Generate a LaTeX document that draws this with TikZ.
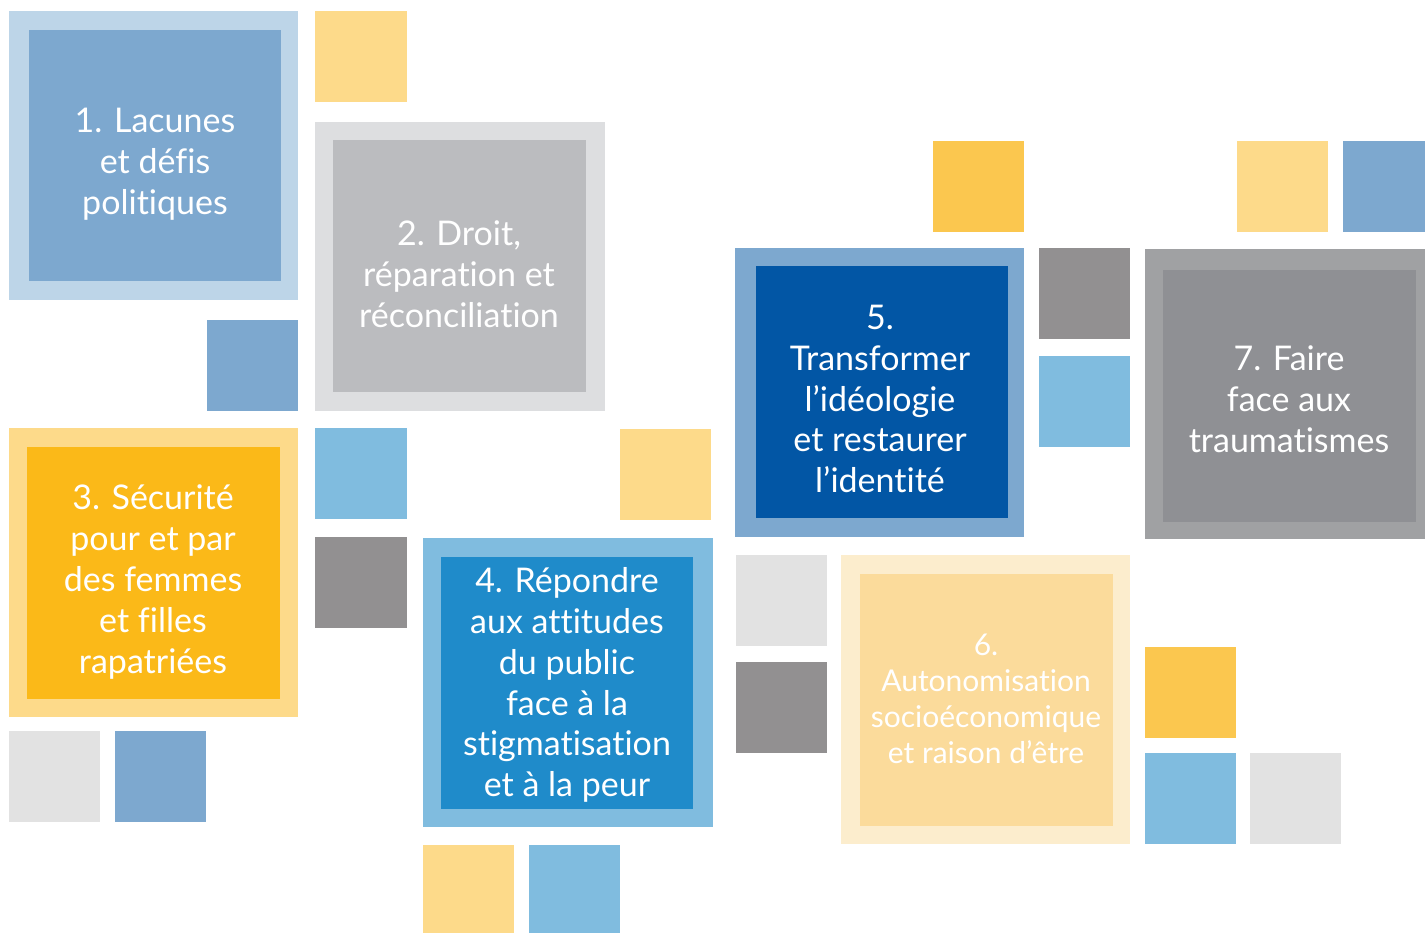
\documentclass[tikz,border=0pt]{standalone}
\usepackage{fontspec}
\setmainfont{Lato}[Ligatures=NoCommon]
\definecolor{paleblue}{HTML}{BDD5E8}
\definecolor{midblue}{HTML}{7DA8CF}
\definecolor{palegray}{HTML}{DDDEE0}
\definecolor{silver}{HTML}{BBBCBF}
\definecolor{paleyellow}{HTML}{FDDA8A}
\definecolor{amber}{HTML}{FBB918}
\definecolor{skyblue}{HTML}{80BCDF}
\definecolor{ceruleanblue}{HTML}{1F8BCA}
\definecolor{darkgray}{HTML}{929091}
\definecolor{lightgray}{HTML}{E2E2E2}
\definecolor{navyblue}{HTML}{0256A5}
\definecolor{gold}{HTML}{FBC74F}
\definecolor{stonegray}{HTML}{A0A1A3}
\definecolor{slategray}{HTML}{8F9094}
\definecolor{creamy}{HTML}{FCEDCD}
\definecolor{sandy}{HTML}{FBDB9B}
\begin{document}
\begin{tikzpicture}[x=1pt,y=-1pt,
  lbl/.style={text=white, align=center, inner sep=0pt, font=\fontsize{34}{40.8}\selectfont},
  lblsmall/.style={text=white, align=center, inner sep=0pt, font=\fontsize{30}{35.8}\selectfont}]
\useasboundingbox (0,0) rectangle (1425,933);
% box 1
\fill[paleblue] (9,11) rectangle (298,300);
\fill[midblue] (29,30) rectangle (281,281);
\node[lbl] (t1) at (155,164) {1. Lacunes\\et défis\\politiques};
% small squares
\fill[paleyellow] (315,11) rectangle (407,102);
\fill[midblue] (207,320) rectangle (298,411);
% box 2
\fill[palegray] (315,122) rectangle (605,411);
\fill[silver] (333,140) rectangle (586,392);
\node[lbl] (t2) at (459,274) {2. Droit,\\réparation et\\réconciliation};
% box 3
\fill[paleyellow] (9,428) rectangle (298,717);
\fill[amber] (27,447) rectangle (280,699);
\node[lbl] (t3) at (153,582) {3. Sécurité\\pour et par\\des femmes\\et filles\\rapatriées};
\fill[skyblue] (315,428) rectangle (407,519);
\fill[darkgray] (315,537) rectangle (407,628);
\fill[paleyellow] (620,429) rectangle (711,520);
\fill[lightgray] (9,731) rectangle (100,822);
\fill[midblue] (115,731) rectangle (206,822);
% box 4
\fill[skyblue] (423,538) rectangle (713,827);
\fill[ceruleanblue] (441,557) rectangle (693,809);
\node[lbl] (t4) at (567,685) {4. Répondre\\aux attitudes\\du public\\face à la\\stigmatisation\\et à la peur};
\fill[paleyellow] (423,845) rectangle (514,933);
\fill[skyblue] (529,845) rectangle (620,933);
% box 5
\fill[gold] (933,141) rectangle (1024,232);
\fill[midblue] (735,248) rectangle (1024,537);
\fill[navyblue] (756,266) rectangle (1008,518);
\node[lbl] (t5) at (880,399) {5.\\Transformer\\l’idéologie\\et restaurer\\l’identité};
\fill[darkgray] (1039,248) rectangle (1130,339);
\fill[skyblue] (1039,356) rectangle (1130,447);
\fill[paleyellow] (1237,141) rectangle (1328,232);
\fill[midblue] (1343,141) rectangle (1425,232);
% box 7
\fill[stonegray] (1145,249) rectangle (1435,539);
\fill[slategray] (1163,270) rectangle (1416,522);
\node[lbl] (t7) at (1289,399) {7. Faire\\face aux\\traumatismes};
% box 6
\fill[lightgray] (736,555) rectangle (827,646);
\fill[darkgray] (736,662) rectangle (827,753);
\fill[creamy] (841,555) rectangle (1130,844);
\fill[sandy] (860,574) rectangle (1113,826);
\node[lblsmall] (t6) at (986,699) {6.\\Autonomisation\\socioéconomique\\et raison d’être};
\fill[gold] (1145,647) rectangle (1236,738);
\fill[skyblue] (1145,753) rectangle (1236,844);
\fill[lightgray] (1250,753) rectangle (1341,844);
\end{tikzpicture}
\end{document}
